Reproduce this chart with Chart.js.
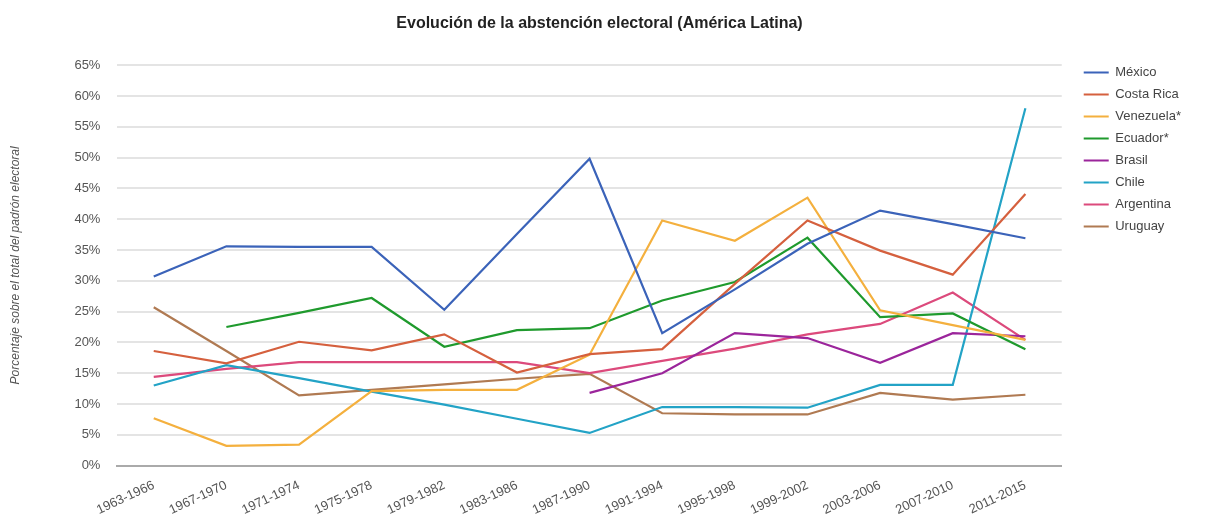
<!DOCTYPE html>
<html>
<head>
<meta charset="utf-8">
<script src="https://cdn.jsdelivr.net/npm/chart.js@4"></script>
<style>
  body { margin: 0; background: #fff; }
  #wrap { width: 1227px; height: 523px; }
</style>
</head>
<body>
<div id="wrap"><canvas id="chart"></canvas></div>
<script>
const periods = ["1963-1966", "1967-1970", "1971-1974", "1975-1978", "1979-1982", "1983-1986",
  "1987-1990", "1991-1994", "1995-1998", "1999-2002", "2003-2006", "2007-2010", "2011-2015"];

const mexico     = [30.7, 35.6, 35.5, 35.5, 25.3, 37.6, 49.8, 21.5, 28.6, 36.0, 41.4, 39.2, 36.9];
const costaRica  = [18.6, 16.6, 20.1, 18.7, 21.3, 15.1, 18.1, 18.9, 29.5, 39.8, 34.9, 31.0, 44.1];
const venezuela  = [7.7, 3.2, 3.4, 12.1, 12.3, 12.3, 18.0, 39.8, 36.5, 43.5, 25.2, 22.8, 20.4];
const ecuador    = [null, 22.5, 24.8, 27.2, 19.3, 22.0, 22.3, 26.8, 29.8, 37.0, 24.1, 24.7, 18.9];
const brasil     = [null, null, null, null, null, null, 11.8, 15.0, 21.5, 20.7, 16.7, 21.5, 21.0];
const chile      = [13.0, 16.3, 14.2, 12.0, 9.9, 7.6, 5.3, 9.5, 9.5, 9.4, 13.1, 13.1, 58.0];
const argentina  = [14.4, 15.7, 16.8, 16.8, 16.8, 16.8, 15.0, 17.0, 19.0, 21.3, 23.0, 28.1, 20.4];
const uruguay    = [25.7, 18.6, 11.4, 12.3, 13.2, 14.1, 14.9, 8.5, 8.3, 8.3, 11.8, 10.7, 11.5];

const yTicks = [0, 5, 10, 15, 20, 25, 30, 35, 40, 45, 50, 55, 60, 65];

const series = [
  { label: "México", data: mexico, color: "#3b63b9" },
  { label: "Costa Rica", data: costaRica, color: "#d5603e" },
  { label: "Venezuela*", data: venezuela, color: "#f4b03e" },
  { label: "Ecuador*", data: ecuador, color: "#1f9a2d" },
  { label: "Brasil", data: brasil, color: "#9b259b" },
  { label: "Chile", data: chile, color: "#23a3c6" },
  { label: "Argentina", data: argentina, color: "#dc4a7c" },
  { label: "Uruguay", data: uruguay, color: "#b07a52" }
];

const font = "Liberation Sans, Arial, sans-serif";

const ctx = document.getElementById("chart").getContext("2d");
new Chart(ctx, {
  type: "line",
  data: {
    labels: periods,
    datasets: series.map(s => ({
      label: s.label,
      data: s.data,
      borderColor: s.color,
      backgroundColor: s.color,
      borderWidth: 2.2,
      pointRadius: 0,
      tension: 0,
      spanGaps: false
    }))
  },
  options: {
    responsive: true,
    maintainAspectRatio: false,
    animation: false,
    layout: { padding: { left: 8, right: 36, top: 0, bottom: 1 } },
    plugins: {
      title: {
        display: true,
        text: "Evolución de la abstención electoral (América Latina)",
        color: "#222",
        font: { family: font, size: 16, weight: "bold" },
        padding: { top: 14, bottom: 32 }
      },
      legend: {
        position: "right",
        align: "start",
        // empty title only pushes the items down to the top of the plot
        title: { display: true, text: " ", font: { size: 10, lineHeight: 1 }, padding: { top: 47, bottom: 0 } },
        labels: {
          usePointStyle: true,
          pointStyle: "line",
          pointStyleWidth: 25,
          padding: 9,
          color: "#444",
          font: { family: font, size: 13, lineHeight: 0.9 }
        }
      },
      tooltip: { enabled: false }
    },
    scales: {
      x: {
        offset: true,
        grid: { display: false },
        border: { color: "#aaaaaa", width: 2 },
        ticks: {
          autoSkip: false,
          minRotation: 25,
          maxRotation: 25,
          padding: 4,
          color: "#555",
          font: { family: font, size: 13 }
        }
      },
      y: {
        min: 0,
        max: 65,
        afterBuildTicks: axis => { axis.ticks = yTicks.map(v => ({ value: v })); },
        grid: { color: "#e4e4e4", lineWidth: 2, drawTicks: false },
        border: { display: false },
        ticks: {
          padding: 17,
          color: "#555",
          font: { family: font, size: 13 },
          callback: v => v + "%"
        },
        title: {
          display: true,
          text: "Porcentaje sobre el total del padrón electoral",
          color: "#555",
          font: { family: font, size: 12, style: "italic" },
          padding: { top: 0, bottom: 35 }
        }
      },
      // blank strip between the plot and the legend
      gap: {
        position: "right",
        grid: { display: false },
        border: { display: false },
        ticks: { display: false },
        afterFit: axis => { axis.width = 13; }
      }
    }
  }
});
</script>
</body>
</html>
